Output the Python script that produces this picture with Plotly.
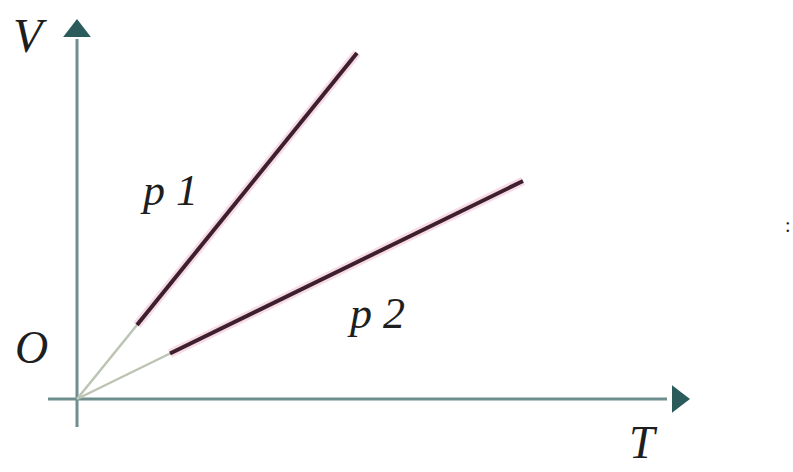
import plotly.graph_objects as go

# Isobars on a V–T diagram: two straight lines through the origin
p1_T = [0, 60, 280]
p1_V = [0, 74, 346]
p2_T = [0, 93, 446]
p2_V = [0, 45.5, 218]

# Axis extents (T axis and V axis), arrow-head positions
t_axis = [-29, 590]
v_axis = [-28, 360]
t_arrow = 601
v_arrow = 368

AXIS_COLOR = "#6f8e8e"
HEAD_COLOR = "#2c5b5b"
LINE_COLOR = "#3d1f2e"
HALO_COLOR = "rgba(240,190,210,0.55)"
FAINT_COLOR = "#bcc4b4"
FONT = "Liberation Serif"

fig = go.Figure()

# axes
fig.add_trace(go.Scatter(x=t_axis, y=[0, 0], mode="lines",
                         line=dict(color=AXIS_COLOR, width=3), hoverinfo="skip"))
fig.add_trace(go.Scatter(x=[0, 0], y=v_axis, mode="lines",
                         line=dict(color=AXIS_COLOR, width=3), hoverinfo="skip"))
fig.add_trace(go.Scatter(x=[t_arrow], y=[0], mode="markers",
                         marker=dict(symbol="triangle-right", size=24, color=HEAD_COLOR),
                         hoverinfo="skip"))
fig.add_trace(go.Scatter(x=[0], y=[v_arrow], mode="markers",
                         marker=dict(symbol="triangle-up", size=24, color=HEAD_COLOR),
                         hoverinfo="skip"))

# isobars: faint part near the origin, solid part beyond
for T, V in ((p1_T, p1_V), (p2_T, p2_V)):
    fig.add_trace(go.Scatter(x=T[:2], y=V[:2], mode="lines",
                             line=dict(color=FAINT_COLOR, width=2.5), hoverinfo="skip"))
    fig.add_trace(go.Scatter(x=T[1:], y=V[1:], mode="lines",
                             line=dict(color=HALO_COLOR, width=9), hoverinfo="skip"))
    fig.add_trace(go.Scatter(x=T[1:], y=V[1:], mode="lines",
                             line=dict(color=LINE_COLOR, width=4), hoverinfo="skip"))

labels = [
    ("<i>V</i>", -47, 364, 48),
    ("<i>O</i>", -46, 52, 46),
    ("<i>T</i>", 566, -43, 46),
    ("<i>p 1</i>", 92, 209, 44),
    ("<i>p 2</i>", 299, 86, 44),
    (":", 711, 174, 20),
]
for text, x, y, size in labels:
    fig.add_annotation(x=x, y=y, text=text, showarrow=False,
                       font=dict(family=FONT, size=size, color="#1e1e1e"))

fig.update_layout(
    width=793, height=472,
    margin=dict(l=0, r=0, t=0, b=0),
    paper_bgcolor="white", plot_bgcolor="white",
    showlegend=False,
    xaxis=dict(range=[-77, 716], visible=False),
    yaxis=dict(range=[-73, 399], visible=False),
)

fig.write_html("out.html")
